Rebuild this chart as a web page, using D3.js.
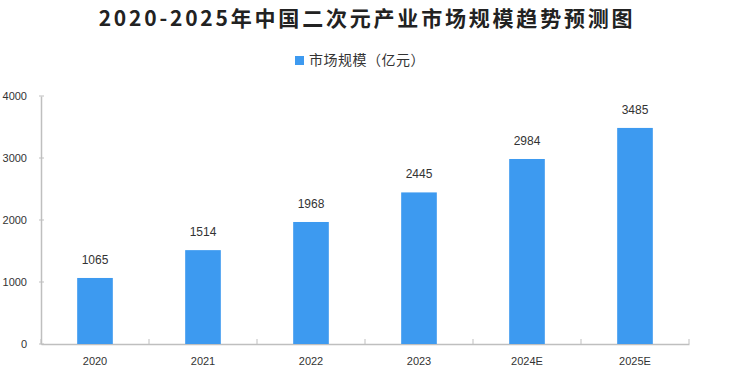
<!DOCTYPE html>
<html>
<head>
<meta charset="utf-8">
<script src="https://cdn.jsdelivr.net/npm/d3@7"></script>
<style>
  body { margin: 0; background: #fff; }
  svg { display: block; }
</style>
</head>
<body>
<svg id="chart" width="730" height="378"></svg>
<script>
// data
const years = ["2020", "2021", "2022", "2023", "2024E", "2025E"];
const scale = [1065, 1514, 1968, 2445, 2984, 3485];
const yTicks = [0, 1000, 2000, 3000, 4000];
const title = "2020-2025年中国二次元产业市场规模趋势预测图";
const seriesName = "市场规模（亿元）";

const svg = d3.select("#chart");

const margin = { top: 96, right: 41, bottom: 34, left: 41 };
const width = 730 - margin.left - margin.right;
const height = 378 - margin.top - margin.bottom;

const x = d3.scaleBand().domain(years).range([0, width]).paddingInner(0.67).paddingOuter(0.335);
const y = d3.scaleLinear().domain([0, 4000]).range([height, 0]);

const g = svg.append("g").attr("transform", `translate(${margin.left},${margin.top})`);

// title
svg.append("text")
    .attr("x", 367)
    .attr("y", 26)
    .attr("text-anchor", "middle")
    .style("font-family", "'Noto Sans CJK SC', sans-serif")
    .style("font-weight", "bold")
    .style("font-size", "21px")
    .style("letter-spacing", "2.8px")
    .attr("fill", "#222")
    .text(title);

// legend
svg.append("rect")
    .attr("x", 295).attr("y", 56)
    .attr("width", 9).attr("height", 9)
    .attr("fill", "#3d9af0");
svg.append("text")
    .attr("x", 309).attr("y", 65)
    .style("font-family", "'Noto Sans CJK SC', sans-serif")
    .style("font-size", "14px")
    .style("letter-spacing", "0.5px")
    .attr("fill", "#333")
    .text(seriesName);

// y axis
const yAxis = g.append("g")
    .attr("class", "y axis")
    .call(d3.axisLeft(y).tickValues(yTicks).tickSize(0).tickPadding(14).tickFormat(d3.format("d")));
yAxis.select(".domain").attr("stroke", "#bfbfbf").attr("stroke-width", 1.5);
yAxis.selectAll("text")
    .style("font-family", "'Liberation Sans', sans-serif")
    .style("font-size", "11px")
    .attr("fill", "#333");
// small ticks crossing the y axis
g.selectAll(".ytick")
    .data(yTicks)
    .enter()
    .append("line")
    .attr("class", "ytick")
    .attr("x1", -2).attr("x2", 3)
    .attr("y1", d => y(d)).attr("y2", d => y(d))
    .attr("stroke", "#bfbfbf");

// x axis
const xAxis = g.append("g")
    .attr("class", "x axis")
    .attr("transform", `translate(0,${height})`)
    .call(d3.axisBottom(x).tickSize(0).tickPadding(13));
xAxis.select(".domain").attr("stroke", "#bfbfbf").attr("stroke-width", 1.5);
xAxis.selectAll("text")
    .style("font-family", "'Liberation Sans', sans-serif")
    .style("font-size", "11px")
    .attr("fill", "#333");

// category boundary ticks (pointing up)
const step = x.step();
g.selectAll(".xtick")
    .data(d3.range(years.length + 1))
    .enter()
    .append("line")
    .attr("class", "xtick")
    .attr("x1", i => i * step).attr("x2", i => i * step)
    .attr("y1", height - 5).attr("y2", height)
    .attr("stroke", "#bfbfbf");

// bars
g.selectAll(".bar")
    .data(scale)
    .enter()
    .append("rect")
    .attr("class", "bar")
    .attr("x", (d, i) => x(years[i]))
    .attr("y", d => y(d))
    .attr("width", x.bandwidth())
    .attr("height", d => height - y(d))
    .attr("fill", "#3d9af0");

// value labels
g.selectAll(".val")
    .data(scale)
    .enter()
    .append("text")
    .attr("class", "val")
    .attr("x", (d, i) => x(years[i]) + x.bandwidth() / 2)
    .attr("y", d => y(d) - 14)
    .attr("text-anchor", "middle")
    .style("font-family", "'Liberation Sans', sans-serif")
    .style("font-size", "12px")
    .attr("fill", "#333")
    .text(d => d);
</script>
</body>
</html>
